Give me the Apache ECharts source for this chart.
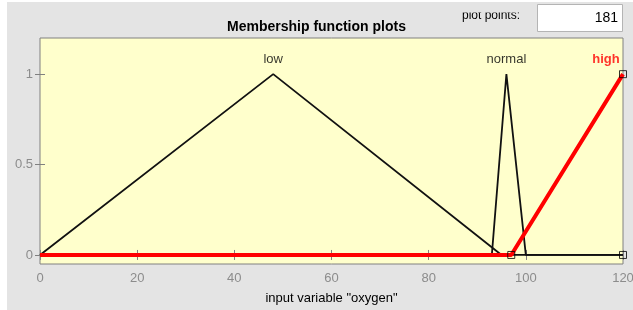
<!DOCTYPE html>
<html>
<head>
<meta charset="utf-8">
<script src="https://cdn.jsdelivr.net/npm/echarts@6/dist/echarts.min.js"></script>
<style>
    html, body { margin: 0; padding: 0; background: #ffffff; }
    #graph1 { width: 633px; height: 310px; }
</style>
</head>
<body>
<div id="graph1"></div>
<script>
// membership functions of input "oxygen", points as [x, mu]
var lowPoints = [[0, 0], [48, 1], [95, 0], [120, 0]];
var normalPoints = [[0, 0], [93, 0], [96, 1], [100, 0], [120, 0]];
var highPoints = [[0, 0], [97, 0], [120, 1]];
// parameter markers of the selected MF (high)
var highParams = [[97, 0], [120, 0], [120, 1]];
// mf names and where they are written
var mfNames = ['low', 'normal', 'high'];
var mfLabelX = [48, 96, 116.5];
var mfLabelY = [1.08, 1.08, 1.08];
var yTicks = [0, 0.5, 1];
var plotPoints = '181';

LoadGraph1();

function LoadGraph1() {

    var graph1 = echarts.init(document.getElementById('graph1'));

    var labelData = [];
    for (var i = 0; i < mfNames.length; i++) {
        labelData.push({
            value: [mfLabelX[i], mfLabelY[i]],
            name: mfNames[i],
            label: i == 2 ? { color: '#ff0000', fontWeight: 'bold' } : {}
        });
    }

    var option = {
        animation: false,
        textStyle: { fontFamily: 'Liberation Sans' },
        graphic: [
            { type: 'rect', z: -10, shape: { x: 7, y: 2, width: 626, height: 308 }, style: { fill: '#e4e4e4' } },
            { type: 'text', left: 462, top: 10, style: { text: 'plot points:', fontSize: 12, fill: '#000', fontFamily: 'Liberation Sans' } },
            { type: 'rect', z: 5, shape: { x: 455, y: 2, width: 78, height: 10.5 }, style: { fill: '#e4e4e4' } },
            { type: 'rect', shape: { x: 537.5, y: 4.5, width: 85, height: 27 }, style: { fill: '#ffffff', stroke: '#b4b4b4', lineWidth: 1 } },
            { type: 'text', right: 15, top: 11, style: { text: plotPoints, fontSize: 14, fill: '#000', fontFamily: 'Liberation Sans' } }
        ],
        title: {
            text: 'Membership function plots',
            left: 'center',
            top: 15,
            textStyle: { fontSize: 14, fontWeight: 'bold', color: '#000', fontFamily: 'Liberation Sans' }
        },
        grid: {
            left: 40,
            right: 10,
            top: 38,
            bottom: 46,
            outerBoundsMode: 'none',
            show: true,
            backgroundColor: '#ffffcc',
            borderColor: '#808080',
            borderWidth: 1
        },
        xAxis: [
            {
                type: 'value',
                min: 0,
                max: 120,
                interval: 20,
                name: 'input variable "oxygen"',
                nameLocation: 'middle',
                nameGap: 28,
                nameTextStyle: { fontSize: 13, color: '#000' },
                axisLine: { show: false },
                axisTick: { inside: true, length: 5, lineStyle: { color: '#808080' } },
                axisLabel: { margin: 8, fontSize: 13, color: '#8c8c8c', showMaxLabel: true },
                splitLine: { show: false }
            },
            {
                type: 'value',
                position: 'top',
                min: 0,
                max: 120,
                interval: 20,
                axisLine: { show: false },
                axisTick: { inside: true, length: 5, lineStyle: { color: '#808080' } },
                axisLabel: { show: false },
                splitLine: { show: false }
            }
        ],
        yAxis: [
            {
                type: 'value',
                min: -0.05,
                max: 1.2,
                axisLine: { show: false },
                axisTick: { show: true, inside: true, length: 5, customValues: yTicks, lineStyle: { color: '#808080' } },
                axisLabel: { margin: 7, fontSize: 13, color: '#8c8c8c', customValues: yTicks },
                splitLine: { show: false }
            },
            {
                type: 'value',
                position: 'right',
                min: -0.05,
                max: 1.2,
                axisLine: { show: false },
                axisTick: { show: true, inside: true, length: 5, customValues: yTicks, lineStyle: { color: '#808080' } },
                axisLabel: { show: false },
                splitLine: { show: false }
            }
        ],
        series: [
            {
                name: 'low',
                type: 'line',
                data: lowPoints,
                symbol: 'none',
                lineStyle: { color: '#111', width: 1.8 },
                z: 2
            },
            {
                name: 'normal',
                type: 'line',
                data: normalPoints,
                symbol: 'none',
                lineStyle: { color: '#111', width: 1.8 },
                z: 2
            },
            {
                name: 'high',
                type: 'line',
                data: highPoints,
                symbol: 'none',
                lineStyle: { color: '#ff0000', width: 4 },
                z: 3
            },
            {
                name: 'params',
                type: 'scatter',
                data: highParams,
                symbol: 'rect',
                symbolSize: 7,
                clip: true,
                itemStyle: { color: 'rgba(0,0,0,0)', borderColor: '#000', borderWidth: 1 },
                z: 4
            },
            {
                name: 'names',
                type: 'scatter',
                data: labelData,
                symbolSize: 0,
                label: {
                    show: true,
                    position: 'inside',
                    formatter: '{b}',
                    fontSize: 13,
                    color: '#000'
                },
                z: 5
            }
        ]
    };

    graph1.setOption(option, true);
}
</script>
</body>
</html>
